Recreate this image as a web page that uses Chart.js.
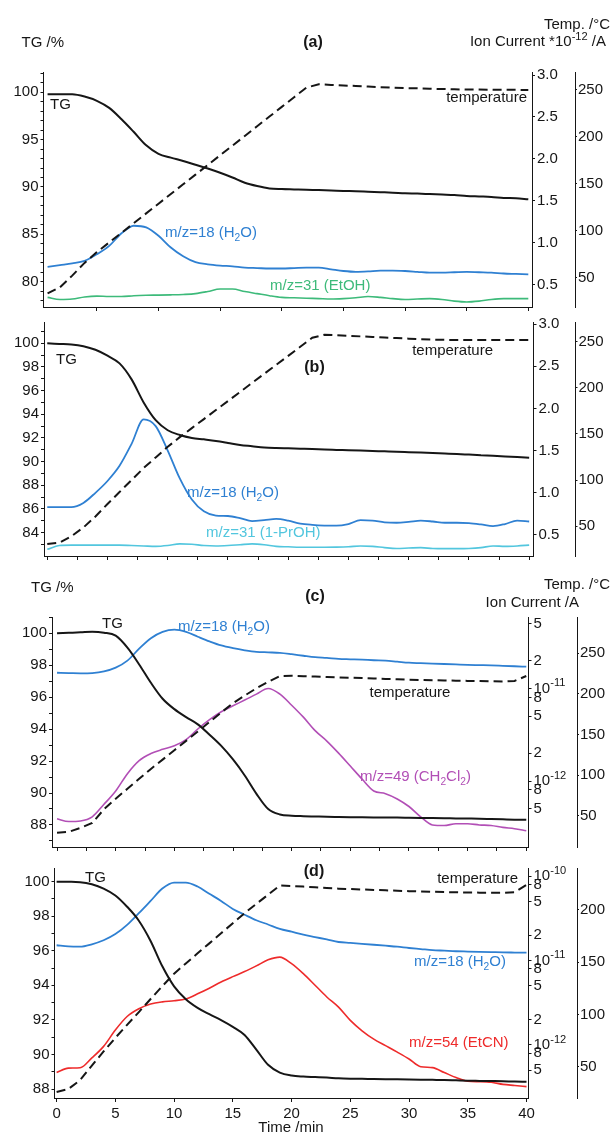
<!DOCTYPE html>
<html>
<head>
<meta charset="utf-8">
<title>TG-MS curves (a)-(d)</title>
<script src="https://cdn.jsdelivr.net/npm/chart.js@4.4.1/dist/chart.umd.min.js"></script>
<style>
  html, body { margin: 0; background: #fff; }
  #figure { position: relative; width: 613px; height: 1136px; overflow: hidden; }
  #figure canvas { position: absolute; left: 0; top: 0; }
</style>
</head>
<body>
<div id="figure">
  <canvas id="panel-a" width="613" height="1136"></canvas>
  <canvas id="panel-b" width="613" height="1136"></canvas>
  <canvas id="panel-c" width="613" height="1136"></canvas>
  <canvas id="panel-d" width="613" height="1136"></canvas>
</div>
<script>
// ---- data (time in min, TG in %, temperature in °C) ----
const minutesA = [1,2,3,4,5,6,7,8,9,10,11,12,13,14,15,16,17,18,19,20,21,22,23,24,25,26,27,28,29,30,31,32,33,34,35,36,37,38,39,40];
const minutes = [0,1,2,3,4,5,6,7,8,9,10,11,12,13,14,15,16,17,18,19,20,21,22,23,24,25,26,27,28,29,30,31,32,33,34,35,36,37,38,39,40];

// (a) ion current in 1e-12 A
const tgA = [99.8,99.8,99.79,99.55,99.1,98.35,97.15,95.8,94.4,93.5,93.1,92.75,92.35,91.95,91.5,91.0,90.45,90.1,89.85,89.78,89.74,89.7,89.67,89.63,89.58,89.55,89.5,89.45,89.4,89.33,89.3,89.25,89.2,89.15,89.05,89.0,88.95,88.85,88.8,88.7];
const tempA = [33.5,40,52.5,66,77.5,87.8,98,108.4,118.7,129,139.3,149.6,159.9,170.2,180.5,190.8,201,211.4,221.7,232,242.3,252.5,256,255.4,254.8,254.2,253.6,253,252.5,252,251.7,251.3,251,250.7,250.5,250.4,250.3,250.2,250.1,250];
const h2oA = [0.71,0.73,0.75,0.78,0.86,0.96,1.11,1.20,1.18,1.08,0.94,0.835,0.765,0.74,0.725,0.715,0.70,0.695,0.69,0.69,0.695,0.70,0.70,0.68,0.66,0.65,0.655,0.665,0.665,0.66,0.65,0.64,0.64,0.645,0.65,0.645,0.64,0.63,0.625,0.62];
const etohA = [0.345,0.32,0.325,0.35,0.36,0.355,0.355,0.365,0.37,0.372,0.375,0.38,0.39,0.415,0.445,0.445,0.415,0.39,0.365,0.345,0.34,0.335,0.33,0.325,0.33,0.34,0.355,0.345,0.33,0.32,0.325,0.33,0.32,0.30,0.29,0.30,0.32,0.33,0.33,0.33];

// (b) ion current in 1e-12 A
const tgB = [100.0,99.95,99.9,99.75,99.45,98.95,98.3,96.95,95.0,93.5,92.65,92.25,92.0,91.88,91.75,91.58,91.4,91.3,91.2,91.15,91.12,91.09,91.06,91.02,90.99,90.96,90.93,90.9,90.87,90.84,90.8,90.76,90.72,90.68,90.64,90.59,90.54,90.49,90.44,90.38,90.33];
const tempB = [30.5,32,39,48.5,60.5,74,87,100,113,124.5,136,146.5,156.3,166.1,175.9,185.7,195.5,205.3,215.1,224.9,234.7,244.5,254.3,257.6,257,256.4,255.8,255.2,254.6,254,253.3,252.7,252.3,252,252,252,252,252,252,252,252];
const h2oB = [0.83,0.83,0.83,0.88,1.0,1.14,1.32,1.58,1.87,1.79,1.50,1.17,0.92,0.78,0.73,0.725,0.70,0.665,0.675,0.69,0.67,0.635,0.62,0.612,0.61,0.63,0.675,0.67,0.65,0.645,0.655,0.67,0.66,0.645,0.645,0.64,0.625,0.606,0.63,0.67,0.66];
const prohB = [0.33,0.375,0.38,0.38,0.38,0.38,0.38,0.375,0.37,0.365,0.375,0.395,0.39,0.375,0.37,0.375,0.385,0.395,0.385,0.365,0.36,0.355,0.355,0.355,0.356,0.36,0.37,0.365,0.35,0.34,0.345,0.35,0.34,0.338,0.338,0.34,0.35,0.37,0.365,0.37,0.38];

// (c) ion current in pA
const tgC = [100.0,100.03,100.06,100.1,100.04,99.85,99.1,98.05,96.9,95.9,95.25,94.75,94.3,93.65,92.95,92.1,91.1,89.95,89.0,88.66,88.58,88.55,88.53,88.51,88.5,88.49,88.48,88.47,88.46,88.46,88.45,88.44,88.43,88.42,88.41,88.4,88.39,88.37,88.35,88.33,88.32];
const tempC = [29,30.2,35,41,58,71,83.2,95.4,107.6,119.1,130.7,142.2,153.7,165.5,177.1,188.6,198,207,215,222,222.3,221.8,221.3,220.8,220.3,220,219.5,219,218.5,218,217.5,217.2,216.9,216.6,216.3,216,215.8,215.5,215.2,216,222];
const h2oC = [14.8,14.7,14.6,14.7,15.3,16.8,20.0,27,35,41,43.3,41,36.3,32.3,29.2,27.3,25.9,24.9,24.6,24.3,23.5,22.6,21.8,21.4,20.9,20.7,20.5,20.2,20.0,19.5,19.0,18.8,18.6,18.4,18.2,18.0,17.9,17.8,17.6,17.4,17.2];
const ch2cl2C = [0.39,0.365,0.37,0.41,0.56,0.78,1.2,1.66,1.98,2.2,2.4,2.8,3.65,4.6,5.6,6.5,7.5,8.7,10.0,8.7,6.6,4.9,3.5,2.7,2.0,1.45,1.05,0.78,0.73,0.64,0.53,0.41,0.335,0.33,0.345,0.345,0.335,0.33,0.315,0.305,0.29];

// (d) ion current in pA
const tgD = [100.0,99.99,99.97,99.85,99.6,99.2,98.55,97.74,96.57,95.1,93.94,93.2,92.7,92.33,91.99,91.6,91.13,90.28,89.4,88.95,88.78,88.72,88.69,88.66,88.62,88.6,88.59,88.58,88.57,88.56,88.55,88.54,88.53,88.52,88.5,88.48,88.47,88.46,88.45,88.43,88.42];
const tempD = [25.7,28.5,37,51,64.5,77.5,90,102.2,114.7,127,139,148.8,158.5,168,177.7,187.3,197,205.8,214.6,223.4,223,222.4,221.7,221,220.4,220,219.6,219.2,218.8,218.4,218,217.7,217.4,217.1,216.9,216.7,216.6,216.5,216.4,217,224];
const h2oD = [15.2,14.7,14.6,15.6,17.4,20.6,26.5,36.5,51,71.5,84,84,75.6,62,51,41,35,30.1,26.8,23.8,22,20.3,19,17.8,16.6,16.2,15.8,15.4,15.0,14.6,14.1,13.7,13.3,13.1,12.9,12.8,12.7,12.6,12.5,12.45,12.4];
const etcnD = [0.47,0.53,0.535,0.7,0.96,1.5,2.17,2.68,3.05,3.24,3.34,3.5,4.03,4.7,5.57,6.45,7.4,8.65,10.2,11.0,9.2,7.0,5.1,3.7,2.8,1.95,1.47,1.17,0.98,0.82,0.68,0.55,0.537,0.47,0.41,0.37,0.366,0.36,0.34,0.33,0.32];

// tick values
const timeTicksA = [5,10,15,20,25,30,35,40];
const timeTicksFine = [0,2.5,5,7.5,10,12.5,15,17.5,20,22.5,25,27.5,30,32.5,35,37.5,40];
const timeTicksD = [0,5,10,15,20,25,30,35,40];
const tgTicksA = [80,85,90,95,100];
const tgTicksB = [84,86,88,90,92,94,96,98,100];
const tgTicksCD = [88,90,92,94,96,98,100];
const ionTicksAB = [0.5,1.0,1.5,2.0,2.5,3.0];
const ionTicksC = [0.5,0.8,1,2,5,8,10,20,50];
const ionTicksD = [0.5,0.8,1,2,5,8,10,20,50,80,100];
const tempTicksABC = [50,100,150,200,250];
const tempTicksD = [50,100,150,200];

// ---- drawing ----
const FONT = '"Liberation Sans", Arial, Helvetica, sans-serif';
const INK = '#161616';
const BLUE = '#2f80d2';
const GREEN = '#3dba7a';
const CYAN = '#52c6de';
const MAGENTA = '#b24fb6';
const RED = '#ee2b2b';

Chart.defaults.font.family = FONT;
Chart.defaults.font.size = 15;
Chart.defaults.color = INK;

// "_2" -> subscript, "^-12" -> superscript
function drawRich(ctx, str, x, y, size, align, bold) {
  const parts = str.split(/(_\d+|\^-?\d+)/).filter(Boolean).map(p => {
    if (p[0] === '_') return { t: p.slice(1), s: size * 0.68, dy: size * 0.32 };
    if (p[0] === '^') return { t: p.slice(1), s: size * 0.74, dy: -size * 0.36 };
    return { t: p, s: size, dy: 0 };
  });
  const fontOf = s => (bold ? 'bold ' : '') + s + 'px ' + FONT;
  let w = 0;
  for (const p of parts) {
    ctx.font = fontOf(p.s);
    p.w = ctx.measureText(p.t).width;
    w += p.w;
  }
  let cx = align === 'right' ? x - w : align === 'center' ? x - w / 2 : x;
  for (const p of parts) {
    ctx.font = fontOf(p.s);
    ctx.fillText(p.t, cx, y + p.dy);
    cx += p.w;
  }
}

const logLabel = pA => {
  const e = Math.round(Math.log10(pA));
  if (Math.abs(pA - 10 ** e) < 1e-9) return '10^' + (e - 12);
  return String(Math.round(pA / 10 ** Math.floor(Math.log10(pA) + 1e-9)));
};

const panelText = {
  id: 'panelText',
  afterDraw(chart, args, opts) {
    const ctx = chart.ctx;
    ctx.save();
    ctx.textBaseline = 'middle';
    ctx.textAlign = 'left';
    if (opts.logTicks) {
      const s = chart.scales.ion;
      ctx.fillStyle = INK;
      for (const v of opts.logTicks) drawRich(ctx, logLabel(v), s.left + 5, s.getPixelForValue(v), 15, 'left');
    }
    for (const t of opts.items) {
      ctx.fillStyle = t.color || INK;
      drawRich(ctx, t.text, t.x, t.y, t.size || 15, t.align || 'left', t.bold);
    }
    ctx.restore();
  }
};

function yAxis(position, weight, cfg, width, tick) {
  // unlabelled minor ticks every `minor` units between the labelled ones
  const values = () => {
    if (!cfg.minor) return cfg.ticks;
    const out = [];
    for (let v = Math.ceil(cfg.min / cfg.minor) * cfg.minor; v <= cfg.max; v += cfg.minor) out.push(Math.round(v * 1000) / 1000);
    return out;
  };
  return {
    type: cfg.log ? 'logarithmic' : 'linear',
    position, weight,
    min: cfg.min, max: cfg.max,
    afterBuildTicks: s => { s.ticks = values().map(v => ({ value: v })); },
    afterFit: s => { s.width = width; },
    border: { display: true, color: INK, width: 1 },
    grid: { drawOnChartArea: false, drawTicks: true, tickLength: tick.len, color: INK },
    ticks: {
      display: !cfg.log, autoSkip: false, padding: tick.pad, color: INK, font: { size: 15 },
      callback: v => (cfg.ticks.includes(v) ? tick.fmt(v) : '')
    }
  };
}

function buildPanel(p) {
  const pts = ys => p.time.map((t, i) => ({ x: t, y: ys[i] }));
  const datasets = p.series.map(s => ({
    data: pts(s.data),
    yAxisID: s.axis,
    borderColor: s.color,
    borderWidth: s.width,
    borderDash: s.dash ? [9, 5] : [],
    pointRadius: 0,
    tension: 0,
    cubicInterpolationMode: s.dash ? 'default' : 'monotone'
  }));
  const a = p.area;
  new Chart(document.getElementById(p.id), {
    type: 'line',
    data: { datasets },
    plugins: [panelText],
    options: {
      responsive: false,
      animation: false,
      events: [],
      layout: {
        padding: { left: 0, top: a.top, right: 613 - a.right - p.ionWidth - p.tempWidth, bottom: 1136 - a.bottom - p.xHeight }
      },
      plugins: {
        legend: { display: false },
        tooltip: { enabled: false },
        panelText: { items: p.texts, logTicks: p.ion.log ? p.ion.ticks : null }
      },
      scales: {
        x: {
          type: 'linear', min: p.xMin, max: p.xMax,
          afterBuildTicks: s => { s.ticks = p.xTicks.map(v => ({ value: v })); },
          afterFit: s => { s.height = p.xHeight; },
          border: { display: true, color: INK, width: 1 },
          grid: { drawOnChartArea: false, tickLength: 4, color: INK },
          ticks: { display: p.xLabels, autoSkip: false, maxRotation: 0, padding: 3, color: INK, font: { size: 15 } }
        },
        tg: yAxis('left', 0, p.tg, a.left, { len: 3, pad: 2, fmt: v => String(v) }),
        ion: yAxis('right', 0, p.ion, p.ionWidth, { len: 3, pad: 2, fmt: v => v.toFixed(1) }),
        temp: yAxis('right', 1, p.temp, p.tempWidth, { len: 2, pad: 1, fmt: v => String(v) })
      }
    }
  });
}

const panels = [
  {
    id: 'panel-a', time: minutesA, xMin: 0.67, xMax: 40.3, xTicks: timeTicksA, xLabels: false, xHeight: 6,
    area: { left: 43.5, right: 532, top: 72, bottom: 307 }, ionWidth: 43, tempWidth: 36,
    tg: { min: 77.33, max: 102.14, ticks: tgTicksA, minor: 1 },
    ion: { min: 0.23, max: 3.036, ticks: ionTicksAB },
    temp: { min: 19.1, max: 269.1, ticks: tempTicksABC },
    series: [
      { data: tgA, color: INK, width: 2, axis: 'tg' },
      { data: tempA, color: INK, width: 2, axis: 'temp', dash: true },
      { data: h2oA, color: BLUE, width: 1.8, axis: 'ion' },
      { data: etohA, color: GREEN, width: 1.6, axis: 'ion' }
    ],
    texts: [
      { text: 'TG /%', x: 21.5, y: 43 },
      { text: '(a)', x: 313, y: 43, bold: true, size: 16, align: 'center' },
      { text: 'Temp. /°C', x: 610, y: 25, align: 'right' },
      { text: 'Ion Current *10^-12 /A', x: 606, y: 42, align: 'right' },
      { text: 'TG', x: 50, y: 105 },
      { text: 'temperature', x: 527, y: 98, align: 'right' },
      { text: 'm/z=18 (H_2O)', x: 165, y: 233, color: BLUE },
      { text: 'm/z=31 (EtOH)', x: 270, y: 286, color: GREEN }
    ]
  },
  {
    id: 'panel-b', time: minutes, xMin: -0.27, xMax: 40.36, xTicks: timeTicksFine, xLabels: false, xHeight: 6,
    area: { left: 44, right: 533.5, top: 322, bottom: 556 }, ionWidth: 42, tempWidth: 36,
    tg: { min: 82.02, max: 101.8, ticks: tgTicksB, minor: 1 },
    ion: { min: 0.251, max: 3.024, ticks: ionTicksAB },
    temp: { min: 17.6, max: 271.4, ticks: tempTicksABC },
    series: [
      { data: tgB, color: INK, width: 2, axis: 'tg' },
      { data: tempB, color: INK, width: 2, axis: 'temp', dash: true },
      { data: h2oB, color: BLUE, width: 1.8, axis: 'ion' },
      { data: prohB, color: CYAN, width: 1.6, axis: 'ion' }
    ],
    texts: [
      { text: 'TG', x: 56, y: 360 },
      { text: '(b)', x: 314.5, y: 368, bold: true, size: 16, align: 'center' },
      { text: 'temperature', x: 493, y: 351, align: 'right' },
      { text: 'm/z=18 (H_2O)', x: 187, y: 493, color: BLUE },
      { text: 'm/z=31 (1-PrOH)', x: 206, y: 533, color: CYAN }
    ]
  },
  {
    id: 'panel-c', time: minutes, xMin: -0.43, xMax: 40.19, xTicks: timeTicksFine, xLabels: false, xHeight: 6,
    area: { left: 52, right: 528.5, top: 617, bottom: 847 }, ionWidth: 48.5, tempWidth: 34,
    tg: { min: 86.62, max: 101.02, ticks: tgTicksCD, minor: 1 },
    ion: { min: 0.1934, max: 59.3, ticks: ionTicksC, log: true },
    temp: { min: 11.5, max: 294.7, ticks: tempTicksABC },
    series: [
      { data: tgC, color: INK, width: 2, axis: 'tg' },
      { data: tempC, color: INK, width: 2, axis: 'temp', dash: true },
      { data: h2oC, color: BLUE, width: 1.8, axis: 'ion' },
      { data: ch2cl2C, color: MAGENTA, width: 1.6, axis: 'ion' }
    ],
    texts: [
      { text: 'TG /%', x: 31, y: 588 },
      { text: '(c)', x: 315, y: 597, bold: true, size: 16, align: 'center' },
      { text: 'Temp. /°C', x: 610, y: 585, align: 'right' },
      { text: 'Ion Current /A', x: 579, y: 603, align: 'right' },
      { text: 'TG', x: 102, y: 624 },
      { text: 'm/z=18 (H_2O)', x: 178, y: 627, color: BLUE },
      { text: 'temperature', x: 369.5, y: 693 },
      { text: 'm/z=49 (CH_2Cl_2)', x: 360, y: 777, color: MAGENTA }
    ]
  },
  {
    id: 'panel-d', time: minutes, xMin: -0.18, xMax: 40.17, xTicks: timeTicksD, xLabels: true, xHeight: 36,
    area: { left: 54.5, right: 528.5, top: 868, bottom: 1098 }, ionWidth: 48.5, tempWidth: 34,
    tg: { min: 87.48, max: 100.79, ticks: tgTicksCD, minor: 1 },
    ion: { min: 0.2344, max: 125.3, ticks: ionTicksD, log: true },
    temp: { min: 19.9, max: 240.2, ticks: tempTicksD },
    series: [
      { data: tgD, color: INK, width: 2, axis: 'tg' },
      { data: tempD, color: INK, width: 2, axis: 'temp', dash: true },
      { data: h2oD, color: BLUE, width: 1.8, axis: 'ion' },
      { data: etcnD, color: RED, width: 1.6, axis: 'ion' }
    ],
    texts: [
      { text: 'TG', x: 85, y: 878 },
      { text: '(d)', x: 314, y: 872, bold: true, size: 16, align: 'center' },
      { text: 'temperature', x: 518, y: 879, align: 'right' },
      { text: 'm/z=18 (H_2O)', x: 414, y: 962, color: BLUE },
      { text: 'm/z=54 (EtCN)', x: 409, y: 1043, color: RED },
      { text: 'Time /min', x: 291, y: 1128, align: 'center' }
    ]
  }
];

panels.forEach(buildPanel);
</script>
</body>
</html>
